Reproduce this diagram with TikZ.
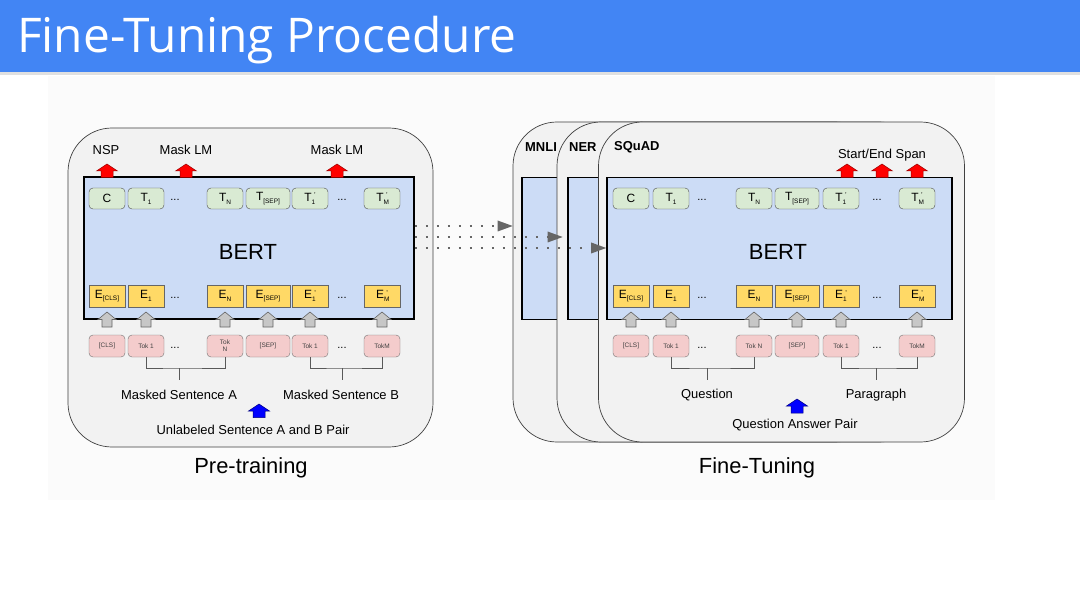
\documentclass[tikz,border=0pt]{standalone}
\usepackage{fontspec}
\setmainfont{Liberation Sans}
\newfontfamily\titlefont{Open Sans}
\usetikzlibrary{arrows.meta}
\definecolor{hdr}{HTML}{4285F4}
\definecolor{panelfill}{HTML}{F2F2F2}
\definecolor{bertblue}{HTML}{CCDCF6}
\definecolor{tgreen}{HTML}{D9EAD3}
\definecolor{eyellow}{HTML}{FFD966}
\definecolor{tpink}{HTML}{F4CCCC}
\definecolor{redarr}{HTML}{FF0000}
\definecolor{bluearr}{HTML}{0000FF}
\newcommand\sub[1]{\raisebox{-0.45ex}{\fontsize{6.5}{6.5}\selectfont #1}}
\newcommand\subp[1]{\rlap{\raisebox{-0.45ex}{\fontsize{6.5}{6.5}\selectfont #1}}\raisebox{0.55ex}{\fontsize{7}{7}\selectfont\,\,'}}
\newcommand\blockarrow[7]{%
  \draw[#7] (#1,#2) -- (#1+#4,#2+#6) -- (#1+#5,#2+#6) -- (#1+#5,#3) -- (#1-#5,#3) -- (#1-#5,#2+#6) -- (#1-#4,#2+#6) -- cycle;}
\tikzset{
  panel/.style={draw=black!75, fill=panelfill, line width=0.7bp, rounded corners=44bp,
    minimum width=366bp, minimum height=320bp, inner sep=0},
  bertbox/.style={draw=black, line width=1.6bp, fill=bertblue, minimum height=142bp, inner sep=0},
  tbox/.style={draw=black!70, fill=tgreen, rounded corners=4bp, minimum height=21bp, inner sep=0,
    font=\fontsize{12}{12}\selectfont},
  ebox/.style={draw=black!60, fill=eyellow, minimum height=22bp, inner sep=0,
    font=\fontsize{12}{12}\selectfont},
  pbox/.style={draw=black!55, fill=tpink, rounded corners=4bp, minimum height=22bp, inner sep=0,
    font=\fontsize{6.5}{7}\selectfont, align=center, text=black!75},
  grayarr/.style={draw=black!60, fill=black!22, line width=0.6bp},
  redarrow/.style={draw=red!60!black, fill=redarr, line width=0.5bp},
  bluearrow/.style={draw=blue!50!black, fill=bluearr, line width=0.5bp},
  lbl/.style={font=\fontsize{13}{13}\selectfont, inner sep=0},
  bold/.style={font=\fontsize{13}{13}\selectfont\bfseries, inner sep=0, anchor=west},
  big/.style={font=\fontsize{22}{22}\selectfont, inner sep=0},
  dots/.style={font=\fontsize{11}{11}\selectfont, inner sep=0},
  bracket/.style={draw=black!65, line width=0.8bp},
  dotarr/.style={draw=black!60, line width=1.8bp, dash pattern=on 1.8bp off 9.2bp,
    -{Triangle[length=15bp,width=11bp,fill=black!60,line width=0pt]}},
}
% #1 prefix, #2 name, #3 x, #4 width, #5 top text, #6 E text, #7 pink text
\newcommand\tokcol[7]{%
  \node[tbox, minimum width=#4 bp] (#1T#2) at (#3,198.5) {#5};
  \node[ebox, minimum width=#4 bp] (#1E#2) at (#3,296) {#6};
  \node[pbox, minimum width=#4 bp] (#1P#2) at (#3,346) {#7};
  \blockarrow{#3}{312}{327}{9}{5}{7.5}{grayarr}
}
\begin{document}
\begin{tikzpicture}[x=1bp,y=-1bp]
\useasboundingbox (0,0) rectangle (1080,608);
% background
\fill[white] (0,0) rectangle (1080,608);
\fill[black!1.5] (48,76) rectangle (995,500);
\fill[black!12] (0,72) rectangle (1080,75);
\fill[hdr] (0,0) rectangle (1080,72);
\node[anchor=base west, inner sep=0, text=white, font=\titlefont\fontsize{48}{48}\selectfont] (title) at (17,53) {Fine-Tuning Procedure};

% ---------------- Pre-training panel ----------------
\node[panel, minimum width=365bp, minimum height=319bp] (prepanel) at (250.5,287.5) {};
\node[bertbox, minimum width=330bp] (lbert) at (249,248) {};
\node[big] (lbertlbl) at (248,252) {BERT};
\tokcol{l}{C}{107}{36}{C}{E\sub{[CLS]}}{[CLS]}
\tokcol{l}{1}{146}{36}{T\sub{1}}{E\sub{1}}{Tok 1}
\tokcol{l}{N}{225}{36}{T\sub{N}}{E\sub{N}}{Tok\\N}
\tokcol{l}{S}{268}{44}{T\sub{[SEP]}}{E\sub{[SEP]}}{[SEP]}
\tokcol{l}{1p}{310}{36}{T\subp{1}}{E\subp{1}}{Tok 1}
\tokcol{l}{M}{382}{36}{T\subp{M}}{E\subp{M}}{TokM}
\node[dots] (ld1) at (175,200) {...};
\node[dots] (ld2) at (342,200) {...};
\node[dots] (ld3) at (175,298) {...};
\node[dots] (ld4) at (342,298) {...};
\node[dots] (ld5) at (175,348) {...};
\node[dots] (ld6) at (342,348) {...};
% outputs
\node[lbl] (nsp) at (106,150) {NSP};
\node[lbl] (mlm1) at (186,150) {Mask LM};
\node[lbl] (mlm2) at (337,150) {Mask LM};
\blockarrow{107}{164}{177.5}{10.5}{6}{7}{redarrow}
\blockarrow{186}{164}{177.5}{10.5}{6}{7}{redarrow}
\blockarrow{337}{164}{177.5}{10.5}{6}{7}{redarrow}
% brackets
\coordinate (lbA) at (179,368);
\coordinate (lbB) at (342,368);
\draw[bracket] (lP1.south) |- (lbA) -| (lPN.south);
\draw[bracket] (lP1p.south) |- (lbB) -| (lPM.south);
\draw[bracket] (lbA) -- ++(0,12);
\draw[bracket] (lbB) -- ++(0,12);
\node[lbl] (lsa) at (179,395) {Masked Sentence A};
\node[lbl] (lsb) at (341,395) {Masked Sentence B};
\blockarrow{259}{404}{417.5}{10.5}{6}{7}{bluearrow}
\node[lbl] (lpair) at (253,430) {Unlabeled Sentence A and B Pair};
\node[big] (pretr) at (251,468) {Pre-training};

% ---------------- Fine-tuning panels ----------------
\node[panel] (mnli) at (696,282) {};
\node[bertbox, minimum width=345bp] (mbert) at (694.5,248.5) {};
\node[bold] (mnlilbl) at (525,147) {MNLI};
\node[panel] (ner) at (740,282) {};
\node[bertbox, minimum width=345bp] (nbert) at (740.5,248.5) {};
\node[bold] (nerlbl) at (569,147) {NER};
\node[panel] (squad) at (781.5,282) {};
\node[bertbox, minimum width=345bp] (sbert) at (779.5,248.5) {};
\node[bold] (squadlbl) at (614,147) {SQuAD};
\node[big] (sbertlbl) at (778,252) {BERT};
\tokcol{r}{C}{631}{36}{C}{E\sub{[CLS]}}{[CLS]}
\tokcol{r}{1}{671}{36}{T\sub{1}}{E\sub{1}}{Tok 1}
\tokcol{r}{N}{754}{36}{T\sub{N}}{E\sub{N}}{Tok N}
\tokcol{r}{S}{797}{44}{T\sub{[SEP]}}{E\sub{[SEP]}}{[SEP]}
\tokcol{r}{1p}{841}{36}{T\subp{1}}{E\subp{1}}{Tok 1}
\tokcol{r}{M}{917}{36}{T\subp{M}}{E\subp{M}}{TokM}
\node[dots] (rd1) at (702,200) {...};
\node[dots] (rd2) at (877,200) {...};
\node[dots] (rd3) at (702,298) {...};
\node[dots] (rd4) at (877,298) {...};
\node[dots] (rd5) at (702,348) {...};
\node[dots] (rd6) at (877,348) {...};
\node[lbl] (span) at (882,155) {Start/End Span};
\blockarrow{847}{164}{177.5}{10.5}{6}{7}{redarrow}
\blockarrow{882}{164}{177.5}{10.5}{6}{7}{redarrow}
\blockarrow{917}{164}{177.5}{10.5}{6}{7}{redarrow}
\coordinate (rbA) at (707,368);
\coordinate (rbB) at (876,368);
\draw[bracket] (rP1.south) |- (rbA) -| (rPN.south);
\draw[bracket] (rP1p.south) |- (rbB) -| (rPM.south);
\draw[bracket] (rbA) -- ++(0,12);
\draw[bracket] (rbB) -- ++(0,12);
\node[lbl] (rq) at (707,395) {Question};
\node[lbl] (rp) at (876,395) {Paragraph};
\blockarrow{797}{399}{413}{10.5}{6}{7}{bluearrow}
\node[lbl] (rpair) at (795,425) {Question Answer Pair};
\node[big] (ft) at (757,468) {Fine-Tuning};

% dotted transfer arrows
\draw[dotarr] (lbert.east |- 0,226) -- (mnli.west |- 0,226);
\draw[dotarr] (lbert.east |- 0,237) -- ([xshift=6bp]ner.west |- 0,237);
\draw[dotarr] (lbert.east |- 0,248) -- (sbert.west |- 0,248);
\end{tikzpicture}
\end{document}
